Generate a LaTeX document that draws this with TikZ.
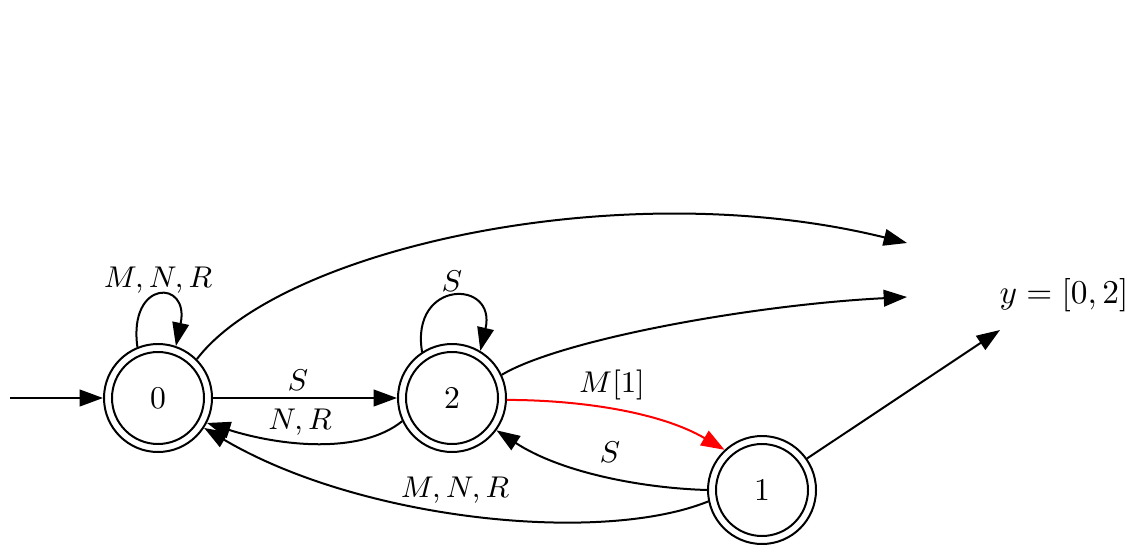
\documentclass[tikz,border=0pt]{standalone}
\usetikzlibrary{arrows.meta}
\begin{document}
\begin{tikzpicture}[x=0.3pt,y=-0.3pt,
  state/.style={circle,draw,line width=0.6pt,minimum size=32.4pt,inner sep=0pt,
    font=\fontsize{9.5}{11}\selectfont,
    path picture={\draw[line width=0.6pt] (path picture bounding box.center) circle[radius=13.8pt];}},
  edge/.style={line width=0.6pt,-{Triangle[length=7pt,width=5pt]}},
  lab/.style={inner sep=1pt,font=\fontsize{9.5}{11}\selectfont}]
\useasboundingbox (0,0) rectangle (1132,544);

% states
\node[state] (q0) at (158,398) {0};
\node[state] (q2) at (452,398) {2};
\node[state] (q1) at (762,490) {1};

% free ends and output label
\coordinate (start) at (10,398);
\coordinate (out1) at (907,243);
\coordinate (out2) at (907,297);
\coordinate (out3) at (1000,330);
\node[lab,font=\fontsize{10}{12}\selectfont] (ylab) at (1064,295) {$y=[0,2]$};

% initial arrow
\draw[edge] (start) -- (q0.west);

% self loops
\draw[edge] (q0.112) .. controls (128,279) and (190,279) .. (q0.71);
\node[lab] (l00) at (158,280) {$M,N,R$};
\draw[edge] (q2.123) .. controls (410,279) and (497,279) .. (q2.59);
\node[lab] (l22) at (452,281) {$S$};

% 0 -> 2 and back
\draw[edge] (q0.east) -- (q2.west);
\node[lab] (l02) at (298,380) {$S$};
\draw[edge] (q2.205) .. controls (360,455) and (280,446) .. (q0.-27);
\node[lab] (l20) at (300,422) {$N,R$};

% 2 -> 1 (red) and 1 -> 2
\draw[edge,red] (q2.-2) .. controls (580,400) and (660,412) .. (q1.133);
\node[lab] (l21) at (612,385) {$M[1]$};
\draw[edge] (q1.180) .. controls (640,488) and (560,472) .. (q2.-36);
\node[lab] (l12) at (610,452) {$S$};

% 1 -> 0
\draw[edge] (q1.192) .. controls (600,545) and (360,520) .. (q0.-33);
\node[lab] (l10) at (455,490) {$M,N,R$};

% outputs
\draw[edge] (q0.45) .. controls (280,250) and (620,172) .. (out1);
\draw[edge] (q2.25) .. controls (560,340) and (750,305) .. (out2);
\draw[edge] (q1.35) -- (out3);
\end{tikzpicture}
\end{document}
